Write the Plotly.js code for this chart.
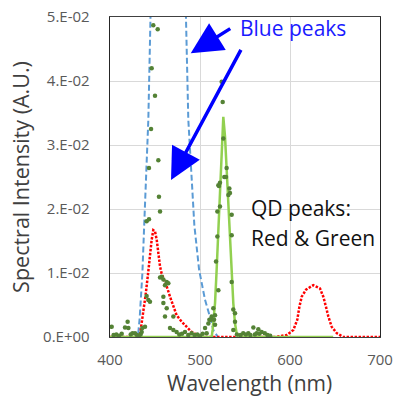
<!DOCTYPE html>
<html>
<head>
<meta charset="utf-8">
<script src="https://cdn.plot.ly/plotly-3.0.1.min.js"></script>
<style>html,body{margin:0;padding:0;background:#fff;}#chart{width:396px;height:399px;}</style>
</head>
<body>
<div id="chart"></div>
<script>
// Blue LED peak (dashed, exceeds the axis top)
const blueX = [425, 431, 433, 436, 438, 442.6, 445, 447, 450, 455, 462, 470, 478, 484.4, 487, 490, 493.7, 499, 505.6, 511, 515, 520];
const blueY = [0, 0, 0.003, 0.01, 0.0175, 0.034, 0.05, 0.065, 0.08, 0.095, 0.1, 0.09, 0.07, 0.05, 0.034, 0.026, 0.0175, 0.0105, 0.0058, 0.0032, 0.001, 0];

// Red QD emission (dotted)
const redX = [400, 433, 435.9, 438, 439.6, 441.9, 443.3, 445.2, 446.3, 448.1, 450, 451.9, 453.7, 455.6, 457.4, 460.4, 463, 466.7, 470.4, 474, 479.6, 485.2, 490.7, 496, 500,
              583.3, 596.3, 603.7, 608.1, 610.4, 613, 617.8, 625.9, 633.3, 637, 640, 642.6, 646.3, 651.9, 659.3, 700];
const redY = [0, 0, 0.0029, 0.0047, 0.0066, 0.0094, 0.0115, 0.0136, 0.0152, 0.0167, 0.0165, 0.0152, 0.0131, 0.011, 0.0099, 0.0089, 0.0079, 0.0063, 0.0047, 0.0034, 0.0024, 0.0016, 0.0008, 0.0004, 0,
              0, 0.0003, 0.0011, 0.0027, 0.0047, 0.0063, 0.0074, 0.0081, 0.0076, 0.0063, 0.0047, 0.0032, 0.0016, 0.0006, 0, 0];

// Green QD emission (solid light green)
const greenX = [400, 513, 514, 516.7, 518.5, 520.4, 522.2, 524.1, 525.9, 527.8, 529.6, 531.5, 533.3, 535.2, 537, 538.9, 540.7, 542.6, 648];
const greenY = [0, 0, 0.0011, 0.0053, 0.0105, 0.0167, 0.0235, 0.0297, 0.0344, 0.0313, 0.0261, 0.0209, 0.0157, 0.0094, 0.0053, 0.0021, 0.0006, 0, 0];

// Measured spectrum (dark green dots)
const dotsX = [401.9, 404, 407, 410, 413, 416.7, 419.6, 420.4, 423, 425, 427.8, 430, 432, 434, 435.2, 435.9, 438.9,
               440.7, 442.6, 444.4, 440.7, 443.3, 443.3, 445.6, 450, 446.3, 448.1, 453, 453.7, 454.4, 455.6,
               457.4, 455.6, 459.3, 461.1, 463, 464.8, 459.3, 459.3, 463, 461.1, 470.4, 466.7, 470.4, 474, 477, 480,
               483.3, 487, 490.7, 494, 497, 500, 503, 505.6, 507.4, 509.3, 510.4, 512.2, 513, 514.8, 515.6, 516.7, 516.7,
               517.8, 519.3, 519.3, 520.4, 520.4, 521.1, 522.2, 522.2, 524.1, 525.2, 525.9, 527, 529.6, 528.9, 531.5,
               532.6, 533.3, 535.2, 535.2, 535.2, 537, 538.9, 538.9, 537, 541, 545, 548, 551, 553.7, 556, 559.3, 561,
               563, 564.8, 566, 568.5, 572, 575, 578];
const dotsY = [0.0016, 0.0003, 0.0004, 0.0002, 0.0005, 0.0015, 0.0024, 0.0014, 0.0004, 0.0006, 0.0006, 0.0003, 0.0002, 0.0004, 0.0008, 0.0014, 0.0016,
               0.0064, 0.0058, 0.0055, 0.0181, 0.0184, 0.0264, 0.0325, 0.0377, 0.042, 0.0487, 0.0481, 0.0276, 0.0219, 0.0196,
               0.0094, 0.0093, 0.009, 0.0081, 0.0086, 0.0084, 0.0063, 0.0053, 0.0045, 0.0032, 0.0032, 0.0014, 0.0011, 0.0008, 0.0004, 0.0005,
               0.0008, 0.0003, 0.0006, 0.0003, 0.0004, 0.0002, 0.0005, 0.0014, 0.0006, 0.0021, 0.0027, 0.0027, 0.0032, 0.0045, 0.0027, 0.0019, 0.0034,
               0.0118, 0.0157, 0.0196, 0.0073, 0.0237, 0.0236, 0.0204, 0.0241, 0.0399, 0.0367, 0.031, 0.025, 0.0264, 0.025, 0.0222,
               0.0232, 0.0225, 0.0191, 0.0159, 0.0086, 0.0043, 0.0037, 0.0024, 0.0011, 0.0004, 0.0003, 0.0006, 0.0004, 0.0006, 0.0003, 0.0015, 0.0004,
               0.0006, 0.0012, 0.0005, 0.0008, 0.0006, 0.0003, 0.0002];

const yTickVals = [0, 0.01, 0.02, 0.03, 0.04, 0.05];
const yTickText = ['0.E+00', '1.E-02', '2.E-02', '3.E-02', '4.E-02', '5.E-02'];
const xTickVals = [400, 500, 600, 700];
const xTitle = 'Wavelength (nm)';
const yTitle = 'Spectral Intensity (A.U.)';

const FONT = 'Open Sans, Liberation Sans, sans-serif';

const traces = [
  {x: blueX, y: blueY, type: 'scatter', mode: 'lines', line: {color: '#5B9BD5', width: 2, dash: '6px,3px'}, hoverinfo: 'skip'},
  {x: redX, y: redY, type: 'scatter', mode: 'lines', line: {color: '#FF0000', width: 2.5, dash: '2.5px,1.5px'}, hoverinfo: 'skip'},
  {x: greenX, y: greenY, type: 'scatter', mode: 'lines', line: {color: '#92D050', width: 2.5}, hoverinfo: 'skip'},
  {x: dotsX, y: dotsY, type: 'scatter', mode: 'markers', marker: {color: '#548235', size: 4.5}, hoverinfo: 'skip'}
];

const layout = {
  width: 396, height: 399,
  margin: {l: 110, r: 16, t: 17, b: 62, pad: 0},
  paper_bgcolor: '#ffffff', plot_bgcolor: '#ffffff',
  showlegend: false,
  font: {family: FONT, color: '#595959'},
  xaxis: {
    range: [400, 700], tickvals: xTickVals, ticks: '', ticklabelstandoff: 9,
    tickfont: {size: 15, color: '#595959', family: FONT},
    showgrid: true, gridcolor: '#D9D9D9', gridwidth: 1, zeroline: false,
    showline: true, linecolor: '#404040', linewidth: 1, mirror: true
  },
  yaxis: {
    range: [0, 0.05], tickvals: yTickVals, ticktext: yTickText, ticks: '', ticklabelstandoff: 16,
    tickfont: {size: 15, color: '#595959', family: FONT},
    showgrid: true, gridcolor: '#D9D9D9', gridwidth: 1, zeroline: false,
    showline: true, linecolor: '#262626', linewidth: 1.3, mirror: true,
    title: {text: yTitle, font: {size: 21.5, color: '#404040', family: FONT}, standoff: 7}
  },
  annotations: [
    {x: 0.5185, y: -0.1906, xref: 'paper', yref: 'paper', text: xTitle, showarrow: false, xanchor: 'center', yanchor: 'bottom',
     borderpad: 0, font: {size: 21, color: '#404040', family: FONT}},
    {x: 542.2, y: 0.0483, xref: 'x', yref: 'y', text: 'Blue peaks', showarrow: false, xanchor: 'left', yanchor: 'middle',
     font: {size: 21, color: '#1A1AFF', family: FONT}},
    {x: 489.7, y: 0.04433, xref: 'x', yref: 'y', text: '', showarrow: true, ax: 41, ay: -25.6,
     arrowcolor: '#0000FF', arrowwidth: 3.5, arrowhead: 2, arrowsize: 1.8, standoff: 0},
    {x: 467.8, y: 0.02453, xref: 'x', yref: 'y', text: '', showarrow: true, ax: 70.7, ay: -131.7,
     arrowcolor: '#0000FF', arrowwidth: 3.5, arrowhead: 2, arrowsize: 1.8, standoff: 0},
    {x: 554.4, y: 0.0202, xref: 'x', yref: 'y', text: 'QD peaks:', showarrow: false, xanchor: 'left', yanchor: 'middle',
     font: {size: 21, color: '#111111', family: FONT}},
    {x: 554.4, y: 0.0155, xref: 'x', yref: 'y', text: 'Red &amp; Green', showarrow: false, xanchor: 'left', yanchor: 'middle',
     font: {size: 21, color: '#111111', family: FONT}}
  ]
};

Plotly.newPlot('chart', traces, layout, {staticPlot: true, displayModeBar: false});
</script>
</body>
</html>
